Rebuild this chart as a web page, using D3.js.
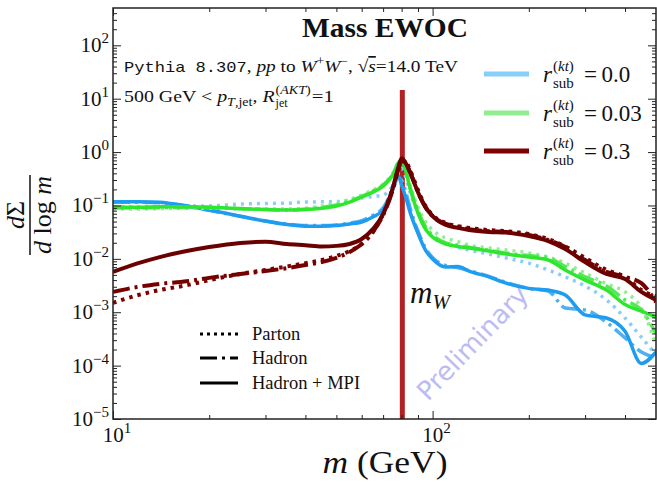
<!DOCTYPE html>
<html>
<head>
<meta charset="utf-8">
<script src="https://cdn.jsdelivr.net/npm/d3@7"></script>
<style>
  body { margin: 0; background: #fff; }
  svg { display: block; }
  text { font-family: "Liberation Serif", "DejaVu Serif", serif; fill: #111; }
</style>
</head>
<body>
<div id="chart"></div>
<script>
// mass grid (GeV)
const masses = [10, 12, 14, 17, 20, 25, 30, 35, 40, 45, 50, 55, 60, 65, 70, 75, 78, 80, 82, 85,
    90, 95, 100, 110, 120, 130, 150, 170, 200, 230, 260, 300, 350, 400, 450, 500];

// r_sub = 0.0
const partonR0 = [0.095, 0.095, 0.096, 0.097, 0.098, 0.106, 0.109, 0.11, 0.116, 0.117, 0.118, 0.126, 0.138, 0.147, 0.157, 0.24, 0.42, 0.50, 0.37, 0.178,
    0.072, 0.038, 0.0256, 0.0198, 0.0166, 0.0146, 0.0123, 0.0104, 0.0083, 0.0062, 0.0046, 0.0031, 0.0017, 0.00078, 0.00034, 0.00016];
const hadronR0 = [0.115, 0.115, 0.112, 0.099, 0.081, 0.063, 0.051, 0.045, 0.042, 0.042, 0.043, 0.047, 0.052, 0.065, 0.09, 0.2, 0.33, 0.3, 0.2, 0.09,
    0.033, 0.016, 0.0105, 0.0075, 0.0068, 0.006, 0.0047, 0.0036, 0.0028, 0.0025, 0.0012, 0.0011, 0.00065, 0.00033, 0.00018, 0.00014];
const mpiR0 = [0.118, 0.118, 0.115, 0.0975, 0.082, 0.063, 0.051, 0.044, 0.041, 0.041, 0.042, 0.045, 0.049, 0.061, 0.082, 0.194, 0.37, 0.24, 0.157, 0.075,
    0.030, 0.0146, 0.0099, 0.0070, 0.0072, 0.0059, 0.0046, 0.0035, 0.0028, 0.0026, 0.0021, 0.00089, 0.00078, 0.00044, 0.00011, 0.00018];

// r_sub = 0.03
const partonR003 = [0.086, 0.086, 0.0875, 0.089, 0.089, 0.0875, 0.086, 0.086, 0.089, 0.0975, 0.109, 0.13, 0.157, 0.194, 0.25, 0.40, 0.62, 0.66, 0.50, 0.24,
    0.093, 0.049, 0.0346, 0.0245, 0.021, 0.018, 0.016, 0.0146, 0.0129, 0.0108, 0.0083, 0.0054, 0.0034, 0.0024, 0.0012, 0.00025];
const hadronR003 = [0.09, 0.09, 0.091, 0.092, 0.091, 0.087, 0.084, 0.083, 0.085, 0.092, 0.102, 0.12, 0.148, 0.185, 0.24, 0.38, 0.6, 0.68, 0.5, 0.22,
    0.08, 0.04, 0.028, 0.02, 0.018, 0.0165, 0.0145, 0.0128, 0.0115, 0.0105, 0.0072, 0.0046, 0.0031, 0.0017, 0.0011, 0.0004];
const mpiR003 = [0.093, 0.093, 0.095, 0.095, 0.093, 0.0875, 0.084, 0.082, 0.084, 0.089, 0.0975, 0.116, 0.144, 0.178, 0.23, 0.37, 0.62, 0.71, 0.50, 0.21,
    0.072, 0.036, 0.0256, 0.0189, 0.017, 0.0159, 0.014, 0.0123, 0.0108, 0.0095, 0.0062, 0.004, 0.0026, 0.0014, 0.00105, 0.00081];

// r_sub = 0.3
const partonR03 = [0.0015, 0.0021, 0.0026, 0.0032, 0.0040, 0.0052, 0.0062, 0.0072, 0.0083, 0.0095, 0.0113, 0.0140, 0.0189, 0.0318, 0.069, 0.21, 0.46, 0.65, 0.68, 0.46,
    0.194, 0.0975, 0.066, 0.047, 0.041, 0.038, 0.0346, 0.033, 0.0291, 0.0235, 0.0171, 0.0104, 0.0062, 0.0046, 0.0026, 0.0020];
const hadronR03 = [0.0024, 0.0030, 0.0034, 0.0038, 0.0044, 0.0052, 0.0059, 0.0067, 0.0077, 0.0087, 0.0104, 0.0134, 0.0189, 0.0318, 0.066, 0.194, 0.46, 0.71, 0.65, 0.42,
    0.177, 0.093, 0.063, 0.045, 0.040, 0.036, 0.033, 0.0318, 0.0279, 0.0225, 0.0166, 0.0095, 0.0057, 0.0046, 0.0035, 0.00155];
const mpiR03 = [0.0057, 0.0083, 0.0108, 0.0140, 0.0166, 0.0198, 0.021, 0.019, 0.018, 0.0171, 0.0175, 0.019, 0.0235, 0.036, 0.069, 0.21, 0.50, 0.77, 0.65, 0.42,
    0.177, 0.093, 0.063, 0.043, 0.038, 0.0346, 0.0318, 0.031, 0.0267, 0.0215, 0.0153, 0.0087, 0.0052, 0.0042, 0.0024, 0.0017];

const rLabels = ["0.0", "0.03", "0.3"];
const legendColors = ["#87cefa", "#90ee90", "#800000"];
const levelLabels = ["Parton", "Hadron", "Hadron + MPI"];
const xMajor = [10, 100];
const yExponents = [-5, -4, -3, -2, -1, 0, 1, 2];
const mW = 80.4;

const width = 657, height = 486;
const margin = { top: 8, right: 1, bottom: 67, left: 113 };

const x = d3.scaleLog().domain([10, 500]).range([margin.left, width - margin.right]);
const y = d3.scaleLog().domain([1e-5, 500]).range([height - margin.bottom, margin.top]);

const svg = d3.select("#chart").append("svg")
    .attr("width", width).attr("height", height);

svg.append("defs").append("clipPath").attr("id", "plot")
    .append("rect")
    .attr("x", margin.left).attr("y", margin.top)
    .attr("width", width - margin.left - margin.right)
    .attr("height", height - margin.top - margin.bottom);

// minor tick values
const xMinor = [];
[10, 100].forEach(d => d3.range(2, 10).forEach(k => { if (d * k < 500) xMinor.push(d * k); }));
const yMinor = [];
yExponents.forEach(e => d3.range(2, 10).forEach(k => { const v = k * Math.pow(10, e); if (v < 500) yMinor.push(v); }));
const yMajor = yExponents.map(e => Math.pow(10, e));

// watermark (behind the curves)
svg.append("text")
    .attr("transform", "translate(428,402) rotate(-46)")
    .style("font-family", "'DejaVu Sans', sans-serif")
    .style("font-size", "26px")
    .style("fill", "#bcbcf4")
    .text("Preliminary");

// vertical W mass line
svg.append("line")
    .attr("x1", x(mW)).attr("x2", x(mW))
    .attr("y1", 90).attr("y2", y(1e-5))
    .attr("stroke", "#b22222").attr("stroke-width", 5);

// curves
const series = [
    { v: partonR0, color: "#87cefa", dash: "3,5", w: 3.5 },
    { v: hadronR0, color: "#4fb0f0", dash: "17,5,3,5", w: 3.5 },
    { v: mpiR0, color: "#1e9cef", dash: null, w: 3.5 },
    { v: partonR003, color: "#90ee90", dash: "3,5", w: 3.5 },
    { v: hadronR003, color: "#55e855", dash: "17,5,3,5", w: 3.5 },
    { v: mpiR003, color: "#2ee62e", dash: null, w: 3.5 },
    { v: partonR03, color: "#7e0000", dash: "3.5,5", w: 4 },
    { v: hadronR03, color: "#760000", dash: "17,5,3,5", w: 4 },
    { v: mpiR03, color: "#6b0000", dash: null, w: 4 }
];

const line = d3.line()
    .x((d, i) => x(masses[i]))
    .y(d => y(d))
    .curve(d3.curveMonotoneX);

svg.append("g").attr("clip-path", "url(#plot)")
    .selectAll("path")
    .data(series)
    .join("path")
    .attr("d", d => line(d.v))
    .attr("fill", "none")
    .attr("stroke", d => d.color)
    .attr("stroke-width", d => d.w)
    .attr("stroke-dasharray", d => d.dash)
    .attr("stroke-linejoin", "round");

// frame and inward ticks on all sides
const axisColor = "#222";
const ax = svg.append("g");
ax.append("g").attr("transform", `translate(0,${y(1e-5)})`)
    .call(d3.axisBottom(x).tickValues(xMajor).tickSize(-8).tickFormat("").tickSizeOuter(0));
ax.append("g").attr("transform", `translate(0,${y(1e-5)})`)
    .call(d3.axisBottom(x).tickValues(xMinor).tickSize(-4).tickFormat("").tickSizeOuter(0));
ax.append("g").attr("transform", `translate(0,${margin.top})`)
    .call(d3.axisTop(x).tickValues(xMajor).tickSize(-8).tickFormat("").tickSizeOuter(0));
ax.append("g").attr("transform", `translate(0,${margin.top})`)
    .call(d3.axisTop(x).tickValues(xMinor).tickSize(-4).tickFormat("").tickSizeOuter(0));
ax.append("g").attr("transform", `translate(${margin.left},0)`)
    .call(d3.axisLeft(y).tickValues(yMajor).tickSize(-8).tickFormat("").tickSizeOuter(0));
ax.append("g").attr("transform", `translate(${margin.left},0)`)
    .call(d3.axisLeft(y).tickValues(yMinor).tickSize(-4).tickFormat("").tickSizeOuter(0));
ax.append("g").attr("transform", `translate(${width - margin.right},0)`)
    .call(d3.axisRight(y).tickValues(yMajor).tickSize(-8).tickFormat("").tickSizeOuter(0));
ax.append("g").attr("transform", `translate(${width - margin.right},0)`)
    .call(d3.axisRight(y).tickValues(yMinor).tickSize(-4).tickFormat("").tickSizeOuter(0));
ax.selectAll(".domain").remove();
ax.selectAll(".tick line").attr("stroke", axisColor).attr("stroke-width", 1);
svg.append("rect")
    .attr("x", margin.left).attr("y", margin.top)
    .attr("width", width - margin.left - margin.right)
    .attr("height", height - margin.top - margin.bottom)
    .attr("fill", "none").attr("stroke", axisColor).attr("stroke-width", 1.5);

// power-of-ten tick labels
function pow10(px, py, exp, anchor) {
    const t = svg.append("text").attr("x", px).attr("y", py)
        .attr("text-anchor", anchor).attr("font-size", 21);
    t.append("tspan").text("10");
    t.append("tspan").attr("dy", -9).attr("font-size", 15)
        .text(exp < 0 ? "\u2212" + (-exp) : exp);
}
yExponents.forEach(e => pow10(109, y(Math.pow(10, e)) + 7, e, "end"));
xMajor.forEach(d => pow10(x(d) + 4, 442, Math.round(Math.log10(d)), "middle"));

// axis titles
const xt = svg.append("text").attr("x", 385).attr("y", 473)
    .attr("text-anchor", "middle").attr("font-size", 31)
    .attr("textLength", 125).attr("lengthAdjust", "spacingAndGlyphs");
xt.append("tspan").attr("font-style", "italic").text("m");
xt.append("tspan").text(" (GeV)");

const yl = svg.append("g").attr("transform", "translate(30,215) rotate(-90)");
const num = yl.append("text").attr("x", 0).attr("y", -6)
    .attr("text-anchor", "middle").attr("font-size", 26);
num.append("tspan").attr("font-style", "italic").text("d");
num.append("tspan").text("\u03A3");
yl.append("line").attr("x1", -40).attr("x2", 40).attr("y1", 0).attr("y2", 0)
    .attr("stroke", "#111").attr("stroke-width", 1.5);
const den = yl.append("text").attr("x", 0).attr("y", 21)
    .attr("text-anchor", "middle").attr("font-size", 26);
den.append("tspan").attr("font-style", "italic").text("d");
den.append("tspan").text(" log ");
den.append("tspan").attr("font-style", "italic").text("m");

// title and annotations
svg.append("text").attr("x", 385).attr("y", 37)
    .attr("text-anchor", "middle").attr("font-size", 27).attr("font-weight", "bold")
    .attr("textLength", 166).attr("lengthAdjust", "spacingAndGlyphs")
    .text("Mass EWOC");

const l1 = svg.append("text").attr("x", 124).attr("y", 72).attr("font-size", 17)
    .attr("textLength", 334).attr("lengthAdjust", "spacingAndGlyphs");
l1.append("tspan").attr("font-family", "Liberation Mono, DejaVu Sans Mono, monospace")
    .attr("font-size", 15).text("Pythia 8.307");
l1.append("tspan").text(", ");
l1.append("tspan").attr("font-style", "italic").text("pp");
l1.append("tspan").text(" to ");
l1.append("tspan").attr("font-style", "italic").text("W");
l1.append("tspan").attr("dy", -7).attr("font-size", 12).text("+");
l1.append("tspan").attr("dy", 7).attr("font-style", "italic").text("W");
l1.append("tspan").attr("dy", -7).attr("font-size", 12).text("\u2212");
l1.append("tspan").attr("dy", 7).text(", \u221A");
l1.append("tspan").attr("font-style", "italic").attr("text-decoration", "overline").text("s");
l1.append("tspan").text("=14.0 TeV");

// second annotation line, pieces placed one after another
const l2y = 102, stretch = 1.17;
const l2a = svg.append("text").attr("x", 124).attr("y", l2y).attr("font-size", 17);
l2a.append("tspan").text("500 GeV < ");
l2a.append("tspan").attr("font-style", "italic").text("p");
l2a.append("tspan").attr("dy", 4).attr("font-size", 12).attr("font-style", "italic").text("T");
l2a.append("tspan").attr("font-size", 12).text(",jet");
l2a.append("tspan").attr("dy", -4).text(", ");
l2a.append("tspan").attr("font-style", "italic").text("R");
const w2a = l2a.node().getComputedTextLength() * stretch;
l2a.attr("textLength", w2a).attr("lengthAdjust", "spacingAndGlyphs");
const xR = 124 + w2a + 1;
const supA = svg.append("text").attr("x", xR).attr("y", l2y - 8).attr("font-size", 12);
supA.append("tspan").text("(");
supA.append("tspan").attr("font-style", "italic").text("AKT");
supA.append("tspan").text(")");
const wSup = supA.node().getComputedTextLength() * stretch;
supA.attr("textLength", wSup).attr("lengthAdjust", "spacingAndGlyphs");
svg.append("text").attr("x", xR).attr("y", l2y + 5).attr("font-size", 12).text("jet");
svg.append("text").attr("x", xR + wSup + 1).attr("y", l2y).attr("font-size", 17)
    .attr("textLength", 22).attr("lengthAdjust", "spacingAndGlyphs").text("=1");

// W mass label
const mw = svg.append("text").attr("x", 410).attr("y", 303).attr("font-size", 31);
mw.append("tspan").attr("font-style", "italic").text("m");
mw.append("tspan").attr("dy", 6).attr("font-size", 21).attr("font-style", "italic").text("W");

// r_sub legend (top right)
const legRows = [74, 113, 151];
rLabels.forEach((lab, i) => {
    const ly = legRows[i];
    svg.append("line").attr("x1", 484).attr("x2", 529).attr("y1", ly).attr("y2", ly)
        .attr("stroke", legendColors[i]).attr("stroke-width", 5);
    svg.append("text").attr("x", 543).attr("y", ly + 8).attr("font-size", 23)
        .attr("font-style", "italic").text("r");
    const sup = svg.append("text").attr("x", 553).attr("y", ly - 3).attr("font-size", 15);
    sup.append("tspan").text("(");
    sup.append("tspan").attr("font-style", "italic").text("kt");
    sup.append("tspan").text(")");
    svg.append("text").attr("x", 553).attr("y", ly + 14).attr("font-size", 15).text("sub");
    svg.append("text").attr("x", 584).attr("y", ly + 8).attr("font-size", 23).text("=" + "\u2009" + lab);
});

// line-style legend (lower left)
const styleRows = [334, 358, 383];
const styleDash = ["3,4", "17,5,3,5", null];
levelLabels.forEach((lab, i) => {
    const ly = styleRows[i];
    svg.append("line").attr("x1", 200).attr("x2", 238).attr("y1", ly).attr("y2", ly)
        .attr("stroke", "#000").attr("stroke-width", 3)
        .attr("stroke-dasharray", styleDash[i]);
    svg.append("text").attr("x", 252).attr("y", ly + 6).attr("font-size", 18.5).text(lab);
});
</script>
</body>
</html>
